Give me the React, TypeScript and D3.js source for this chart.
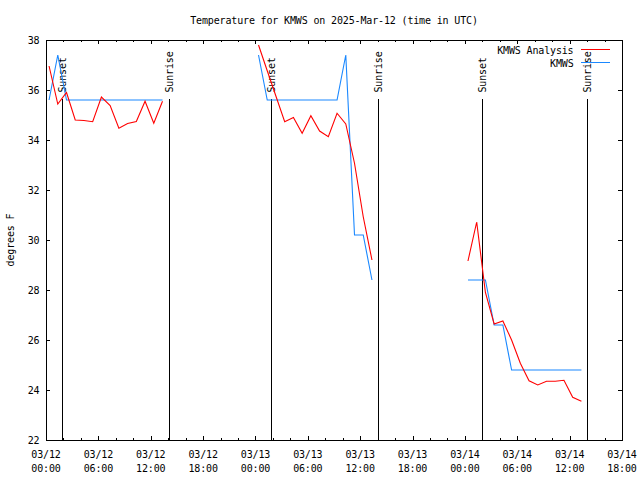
import React from "react";
import * as d3 from "d3";

const TITLE = "Temperature for KMWS on 2025-Mar-12 (time in UTC)";
const Y_LABEL = "degrees F";
const SERIES_NAMES = ["KMWS Analysis", "KMWS"];
const SERIES_COLORS = ["#ff0000", "#1a88ff"];

// observation times (UTC, 2025)
const obsTimes = [
  "03-12 00:21", "03-12 01:21", "03-12 02:21", "03-12 03:21", "03-12 04:21", "03-12 05:21", "03-12 06:21",
  "03-12 07:21", "03-12 08:21", "03-12 09:21", "03-12 10:21", "03-12 11:21", "03-12 12:21", "03-12 13:21",
  "03-13 00:21", "03-13 01:21", "03-13 02:21", "03-13 03:21", "03-13 04:21", "03-13 05:21", "03-13 06:21",
  "03-13 07:21", "03-13 08:21", "03-13 09:21", "03-13 10:21", "03-13 11:21", "03-13 12:21", "03-13 13:21",
  "03-14 00:21", "03-14 01:21", "03-14 02:21", "03-14 03:21", "03-14 04:21", "03-14 05:21", "03-14 06:21",
  "03-14 07:21", "03-14 08:21", "03-14 09:21", "03-14 10:21", "03-14 11:21", "03-14 12:21", "03-14 13:21",
];

const analysisTemps = [
  36.96, 35.44, 35.9, 34.8, 34.78, 34.73, 35.72, 35.38, 34.47, 34.66, 34.74, 35.55, 34.67, 35.55,
  37.8, 36.77, 35.75, 34.73, 34.9, 34.27, 34.97, 34.36, 34.13, 35.07, 34.64, 33.07, 30.93, 29.2,
  29.16, 30.72, 27.9, 26.64, 26.76, 26.0, 25.07, 24.37, 24.2, 24.35, 24.35, 24.39, 23.71, 23.55,
];

const kmwsTemps = [
  35.6, 37.4, 35.6, 35.6, 35.6, 35.6, 35.6, 35.6, 35.6, 35.6, 35.6, 35.6, 35.6, 35.6,
  37.4, 35.6, 35.6, 35.6, 35.6, 35.6, 35.6, 35.6, 35.6, 35.6, 37.4, 30.2, 30.2, 28.4,
  28.4, 28.4, 28.4, 26.6, 26.6, 24.8, 24.8, 24.8, 24.8, 24.8, 24.8, 24.8, 24.8, 24.8,
];

const sunEventTimes = ["03-12 01:53", "03-12 14:07", "03-13 01:47", "03-13 14:03", "03-14 01:57", "03-14 14:00"];
const sunEventLabels = ["Sunset", "Sunrise", "Sunset", "Sunrise", "Sunset", "Sunrise"];

const yTicks = [22, 24, 26, 28, 30, 32, 34, 36, 38];
const X_START = "03-12 00:00";
const X_END = "03-14 18:00";

const parse = (s: string) => d3.utcParse("%Y-%m-%d %H:%M")("2025-" + s) as Date;

const W = 640, H = 480;
const M = { left: 46, right: 18, top: 40, bottom: 40 };
const FONT = "'DejaVu Sans Mono', 'Liberation Mono', monospace";

export default function App() {
  const x = d3.scaleUtc().domain([parse(X_START), parse(X_END)]).range([M.left, W - M.right]);
  const y = d3.scaleLinear().domain([22, 38]).range([H - M.bottom, M.top]);
  const times = obsTimes.map(parse);

  const makeSegments = (vals: number[]) => {
    const segs: [Date, number][][] = [];
    let cur: [Date, number][] = [];
    times.forEach((t, i) => {
      if (cur.length && +t - +cur[cur.length - 1][0] > 2 * 3600e3) {
        segs.push(cur);
        cur = [];
      }
      cur.push([t, vals[i]]);
    });
    if (cur.length) segs.push(cur);
    return segs;
  };
  const line = d3.line<[Date, number]>().x((d) => x(d[0])).y((d) => y(d[1]));

  const majorTicks = x.ticks(d3.utcHour.every(6)!);
  const minorTicks = x.ticks(d3.utcHour.every(2)!).filter((t) => t.getUTCHours() % 6 !== 0);
  const fmtDate = d3.utcFormat("%m/%d");
  const fmtTime = d3.utcFormat("%H:%M");

  const x0 = M.left, x1 = W - M.right, y0 = H - M.bottom, y1 = M.top;
  const txt = { fontFamily: FONT, fontSize: 10, letterSpacing: "-0.15px" } as const;

  return (
    <svg width={W} height={H} style={{ position: "absolute", left: 0, top: 0, background: "#fff" }}>
      <rect x={0} y={0} width={W} height={H} fill="#fff" />
      {/* sunrise/sunset markers */}
      {sunEventTimes.map((s, i) => {
        const xp = Math.round(x(parse(s))) + 0.5;
        return (
          <g key={"sun" + i}>
            <line x1={xp} x2={xp} y1={y0} y2={99} stroke="#000" strokeWidth={1} shapeRendering="crispEdges" />
            <text
              transform={`translate(${xp},92.5) rotate(-90)`}
              dy="0.36em"
              textAnchor="start"
              {...txt}
            >
              {sunEventLabels[i]}
            </text>
          </g>
        );
      })}
      {/* data */}
      {makeSegments(kmwsTemps).map((seg, i) => (
        <path key={"b" + i} d={line(seg)!} fill="none" stroke={SERIES_COLORS[1]} strokeWidth={1.1} />
      ))}
      {makeSegments(analysisTemps).map((seg, i) => (
        <path key={"r" + i} d={line(seg)!} fill="none" stroke={SERIES_COLORS[0]} strokeWidth={1.1} />
      ))}
      {/* border */}
      <rect x={x0 + 0.5} y={y1 + 0.5} width={x1 - x0} height={y0 - y1} fill="none" stroke="#000" strokeWidth={1} shapeRendering="crispEdges" />
      {/* x ticks */}
      {majorTicks.map((t, i) => {
        const xp = Math.round(x(t)) + 0.5;
        return (
          <g key={"mx" + i}>
            <line x1={xp} x2={xp} y1={y0} y2={y0 - 4} stroke="#000" shapeRendering="crispEdges" />
            <line x1={xp} x2={xp} y1={y1} y2={y1 + 4} stroke="#000" shapeRendering="crispEdges" />
            <text x={x(t)} y={458} textAnchor="middle" {...txt}>{fmtDate(t)}</text>
            <text x={x(t)} y={472} textAnchor="middle" {...txt}>{fmtTime(t)}</text>
          </g>
        );
      })}
      {minorTicks.map((t, i) => {
        const xp = Math.round(x(t)) + 0.5;
        return (
          <g key={"nx" + i}>
            <line x1={xp} x2={xp} y1={y0} y2={y0 - 2} stroke="#000" shapeRendering="crispEdges" />
            <line x1={xp} x2={xp} y1={y1} y2={y1 + 2} stroke="#000" shapeRendering="crispEdges" />
          </g>
        );
      })}
      {/* y ticks */}
      {yTicks.map((v, i) => {
        const yp = Math.round(y(v)) + 0.5;
        return (
          <g key={"y" + i}>
            <line x1={x0} x2={x0 + 4} y1={yp} y2={yp} stroke="#000" shapeRendering="crispEdges" />
            <line x1={x1} x2={x1 - 4} y1={yp} y2={yp} stroke="#000" shapeRendering="crispEdges" />
            <text x={39.5} y={y(v)} dy="0.36em" textAnchor="end" {...txt}>{v}</text>
          </g>
        );
      })}
      {/* title & axis label */}
      <text x={(x0 + x1) / 2} y={24} textAnchor="middle" {...txt}>{TITLE}</text>
      <text transform={`translate(10.5,240) rotate(-90)`} dy="0.36em" textAnchor="middle" {...txt}>{Y_LABEL}</text>
      {/* legend */}
      {SERIES_NAMES.map((n, i) => (
        <g key={"lg" + i}>
          <text x={573.5} y={50 + i * 13} dy="0.36em" textAnchor="end" {...txt}>{n}</text>
          <line x1={581} x2={610} y1={49.5 + i * 13} y2={49.5 + i * 13} stroke={SERIES_COLORS[i]} strokeWidth={1} shapeRendering="crispEdges" />
        </g>
      ))}
    </svg>
  );
}
